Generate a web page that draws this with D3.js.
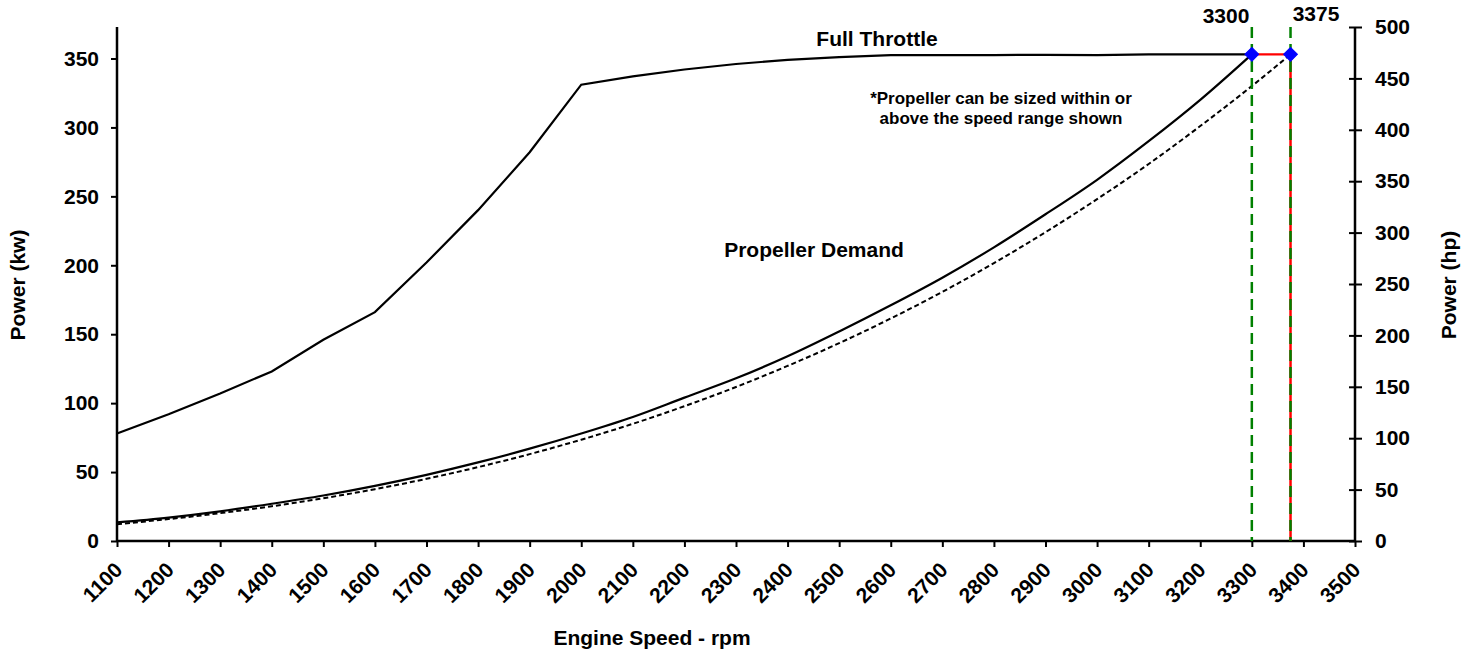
<!DOCTYPE html>
<html>
<head>
<meta charset="utf-8">
<script src="https://cdn.jsdelivr.net/npm/d3@7"></script>
<style>
body{margin:0;background:#fff;}
text{font-family:"Liberation Sans",Arial,sans-serif;font-weight:bold;}
</style>
</head>
<body>
<div id="graph"></div>
<script>
var rpm = [1100,1200,1300,1400,1500,1600,1700,1800,1900,2000,2100,2200,2300,2400,2500,2600,2700,2800,2900,3000,3100,3200,3300];
var fullThrottle = [78,92,107,123,146,166,202,240,282,331,337,342,346,349,351,352.5,352.5,352.5,352.7,352.5,353,353,353];
var propDemand = [13.5,17,21.5,27,33,40,48,57,67,78,90,104,118,134,152,171,191,213,237,262,290,320,353];
var rpmDashed = [1100,1200,1300,1400,1500,1600,1700,1800,1900,2000,2100,2200,2300,2400,2500,2600,2700,2800,2900,3000,3100,3200,3300,3375];
var propDashed = [12.2,15.9,20.2,25.2,31,37.6,45.1,53.6,63,73.5,85,97.8,111.7,127,143.5,161.4,180.7,201.6,224,248,273.5,301,330,353];
var markers = [3300,3375];
var markerPower = 353;
var xTicks = d3.range(1100,3501,100);
var kwTicks = [0,50,100,150,200,250,300,350];
var hpTicks = [0,50,100,150,200,250,300,350,400,450,500];

var svgWidth = 1471, svgHeight = 651;
var plotLeft = 117, plotRight = 1355, plotTop = 27, plotBottom = 541;
var fs = 21;

var $svg = d3.select("#graph").append("svg")
    .attr("width", svgWidth).attr("height", svgHeight);

var x = d3.scaleLinear().domain([1100,3500]).range([plotLeft,plotRight]);
var yHp = d3.scaleLinear().domain([0,500]).range([plotBottom,plotTop]);
var yKw = d3.scaleLinear().domain([0,500*0.7457]).range([plotBottom,plotTop]);

// axes
var xAxis = $svg.append("g").attr("transform",`translate(0,${plotBottom})`)
    .call(d3.axisBottom(x).tickValues(xTicks).tickSize(6).tickFormat(d3.format("d")));
xAxis.selectAll("text")
    .attr("font-size",fs).attr("text-anchor","end").attr("y",0).attr("dy","0.35em")
    .attr("transform","translate(1,25) rotate(-45)");

var yl = $svg.append("g").attr("transform",`translate(${plotLeft},0)`)
    .call(d3.axisLeft(yKw).tickValues(kwTicks).tickSize(6));
yl.selectAll("text").attr("font-size",fs).attr("x",-18);

var yr = $svg.append("g").attr("transform",`translate(${plotRight},0)`)
    .call(d3.axisRight(yHp).tickValues(hpTicks).tickSize(7));
yr.selectAll(".tick line").attr("x1",-6);
yr.selectAll("text").attr("font-size",fs).attr("x",20);

[xAxis,yl,yr].forEach(a=>{
    a.attr("font-family",null);
    a.select(".domain").attr("stroke","#000").attr("stroke-width",2.5);
    a.selectAll(".tick line").attr("stroke","#000").attr("stroke-width",2);
    a.selectAll("text").attr("fill","#000");
});
yl.select(".domain").attr("d",`M0,${plotTop}V${plotBottom}`);
yr.select(".domain").attr("d",`M0,${plotTop}V${plotBottom}`);
xAxis.select(".domain").attr("d",`M${plotLeft},0H${plotRight}`);

var curve = d3.line().curve(d3.curveMonotoneX).x(d=>x(d[0])).y(d=>yKw(d[1]));

$svg.append("path").datum(rpm.map((r,i)=>[r,fullThrottle[i]]))
    .attr("d",d3.line().x(d=>x(d[0])).y(d=>yKw(d[1])))
    .attr("fill","none").attr("stroke","#000").attr("stroke-width",2.2);
$svg.append("path").datum(rpm.map((r,i)=>[r,propDemand[i]]))
    .attr("d",curve).attr("fill","none").attr("stroke","#000").attr("stroke-width",2.2);
$svg.append("path").datum(rpmDashed.map((r,i)=>[r,propDashed[i]]))
    .attr("d",curve).attr("fill","none").attr("stroke","#000").attr("stroke-width",2)
    .attr("stroke-dasharray","5,3");

// red lines
$svg.append("line")
    .attr("x1",x(markers[0])).attr("x2",x(markers[1]))
    .attr("y1",yKw(markerPower)).attr("y2",yKw(markerPower))
    .attr("stroke","red").attr("stroke-width",2.2);
$svg.append("line")
    .attr("x1",x(markers[1])).attr("x2",x(markers[1]))
    .attr("y1",yKw(markerPower)).attr("y2",plotBottom)
    .attr("stroke","red").attr("stroke-width",2.5);

// green speed lines
var labelPos = [[1226,23],[1316,21]];
markers.forEach((m,i)=>{
    $svg.append("line")
        .attr("x1",x(m)).attr("x2",x(m)).attr("y1",plotTop).attr("y2",plotBottom)
        .attr("stroke","green").attr("stroke-width",2.5).attr("stroke-dasharray","11,6");
    $svg.append("text").attr("x",labelPos[i][0]).attr("y",labelPos[i][1])
        .attr("text-anchor","middle").attr("font-size",fs).text(m);
});

$svg.selectAll(".mk").data(markers).enter().append("path")
    .attr("d",d3.symbol(d3.symbolSquare,95))
    .attr("transform",d=>`translate(${x(d)},${yKw(markerPower)}) rotate(45)`)
    .attr("fill","blue").attr("stroke","blue");

// labels
$svg.append("text").attr("x",877).attr("y",46).attr("text-anchor","middle").attr("font-size",fs).text("Full Throttle");
$svg.append("text").attr("x",814).attr("y",257).attr("text-anchor","middle").attr("font-size",fs).text("Propeller Demand");
$svg.append("text").attr("x",1001).attr("y",104).attr("text-anchor","middle").attr("font-size",17).text("*Propeller can be sized within or");
$svg.append("text").attr("x",1001).attr("y",124).attr("text-anchor","middle").attr("font-size",17).text("above the speed range shown");

$svg.append("text").attr("transform","translate(25,285) rotate(-90)").attr("text-anchor","middle").attr("font-size",fs).text("Power (kw)");
$svg.append("text").attr("transform","translate(1456,285) rotate(-90)").attr("text-anchor","middle").attr("font-size",fs).text("Power (hp)");
$svg.append("text").attr("x",652).attr("y",645).attr("text-anchor","middle").attr("font-size",fs).text("Engine Speed - rpm");
</script>
</body>
</html>
